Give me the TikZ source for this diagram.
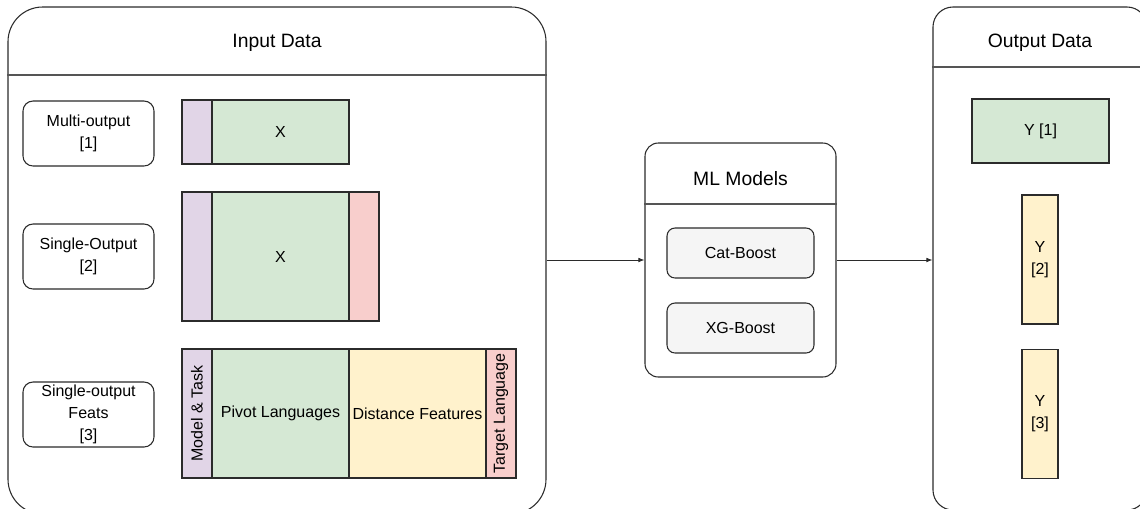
\documentclass[tikz,border=0pt]{standalone}
\usepackage{fontspec}
\setmainfont{Liberation Sans}
\usepackage{tikz}
\usetikzlibrary{positioning, arrows.meta}

\definecolor{lineGray}{HTML}{2B2B2B}
\definecolor{boxPurple}{HTML}{E1D5E7}
\definecolor{boxGreen}{HTML}{D5E8D4}
\definecolor{boxRed}{HTML}{F8CECC}
\definecolor{boxYellow}{HTML}{FFF2CC}
\definecolor{boxGray}{HTML}{F5F5F5}

\begin{document}
\begin{tikzpicture}
    [
      x=0.75pt, y=-0.75pt,
      every node/.style={font=\fontsize{12}{16.5}\selectfont, align=center, inner sep=0pt},
      Container/.style={rectangle, draw=lineGray, line width=0.8pt, fill=white},
      Title/.style={font=\fontsize{14.5}{17}\selectfont},
      Label/.style={rectangle, rounded corners=7.5pt, draw=lineGray, line width=0.8pt, minimum width=98.25pt, minimum height=48.75pt},
      Model/.style={rectangle, rounded corners=6pt, draw=lineGray, line width=0.8pt, fill=boxGray, minimum width=110.25pt, minimum height=37.5pt},
      Purple/.style={rectangle, draw=lineGray, line width=0.8pt, fill=boxPurple},
      Green/.style={rectangle, draw=lineGray, line width=0.8pt, fill=boxGreen},
      Red/.style={rectangle, draw=lineGray, line width=0.8pt, fill=boxRed},
      Yellow/.style={rectangle, draw=lineGray, line width=0.8pt, fill=boxYellow},
      Divider/.style={draw=lineGray!80, line width=0.8pt},
      Arrow/.style={-{Latex[length=4.5pt, width=3.5pt]}, draw=lineGray, line width=0.6pt},
    ]
    \useasboundingbox (0,0) rectangle (1140,508);

    % Containers
    \node[Container, rounded corners=26pt, minimum width=403.5pt, minimum height=380.25pt] (input) at (277, 260.5) {};
    \node[Container, rounded corners=10pt, minimum width=143.25pt, minimum height=175.5pt] (ml) at (740.5, 260) {};
    \node[Container, rounded corners=15pt, minimum width=160.5pt, minimum height=377.25pt] (output) at (1040, 258.5) {};

    \node[Title] (inputTitle) at (277, 43) {Input Data};
    \node[Title] (mlTitle) at (740.5, 179) {ML Models};
    \node[Title] (outputTitle) at (1040, 43) {Output Data};

    \coordinate (inputHead) at (0, 75);
    \coordinate (mlHead) at (0, 204);
    \coordinate (outputHead) at (0, 67);
    \path [Divider] (input.west |- inputHead) -- (input.east |- inputHead);
    \path [Divider] (ml.west |- mlHead) -- (ml.east |- mlHead);
    \path [Divider] (output.west |- outputHead) -- (output.east |- outputHead);

    % Input rows
    \node[Label] (multi) at (88.5, 133.5) {Multi-output\\{}[1]};
    \node[Label] (single) at (88.5, 256.5) {Single-Output\\{}[2]};
    \node[Label] (feats) at (88.5, 414.5) {Single-output\\Feats\\{}[3]};

    \node[Purple, minimum width=22.5pt, minimum height=48pt] (multiTask) at (197, 132) {};
    \node[Green, minimum width=102.75pt, minimum height=48pt] (multiX) at (280.5, 132) {X};

    \node[Purple, minimum width=22.5pt, minimum height=96.75pt] (singleTask) at (197, 256.5) {};
    \node[Green, minimum width=102.75pt, minimum height=96.75pt] (singleX) at (280.5, 256.5) {X};
    \node[Red, minimum width=22.5pt, minimum height=96.75pt] (singleTarget) at (364, 256.5) {};

    \node[Purple, rotate=90, minimum width=96.75pt, minimum height=22.5pt] (featsTask) at (197, 413.5) {Model \& Task};
    \node[Green, minimum width=102.75pt, minimum height=96.75pt] (featsPivot) at (280.5, 413.5) {Pivot Languages};
    \node[Yellow, minimum width=102.75pt, minimum height=96.75pt] (featsDist) at (417.5, 413.5) {Distance Features};
    \node[Red, rotate=90, minimum width=96.75pt, minimum height=22.5pt] (featsTarget) at (501, 413.5) {Target Language};

    % Models
    \node[Model] (cat) at (740.5, 253) {Cat-Boost};
    \node[Model] (xg) at (740.5, 328) {XG-Boost};

    % Outputs
    \node[Green, minimum width=102.75pt, minimum height=48pt] (y1) at (1040.5, 131) {Y [1]};
    \node[Yellow, minimum width=27pt, minimum height=96.75pt] (y2) at (1040, 259.5) {Y\\{}[2]};
    \node[Yellow, minimum width=27pt, minimum height=96.75pt] (y3) at (1040, 414) {Y\\{}[3]};

    % Lines
      \path [Arrow] (ml.west -| input.east) -- (ml.west);
      \path [Arrow] (ml.east) -- (ml.east -| output.west);

  \end{tikzpicture}
\end{document}
